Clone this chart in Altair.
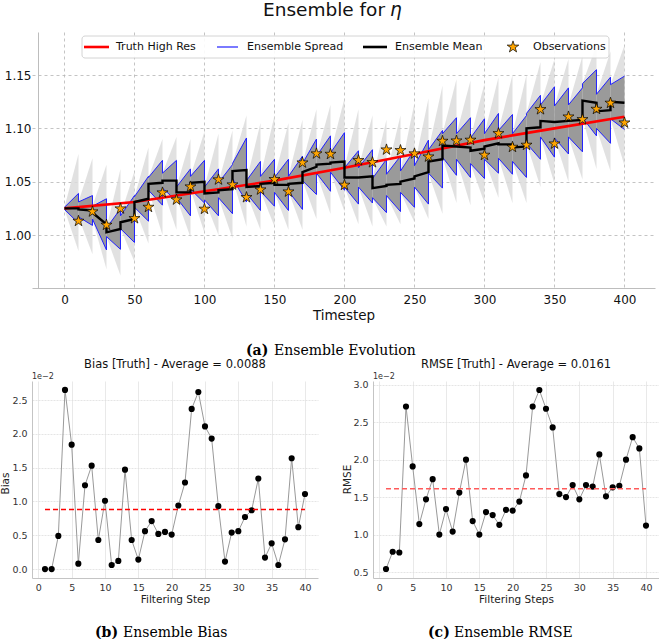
import math
import pandas as pd
import altair as alt

# ---------------- (a) Ensemble evolution : values ----------------
obs_t = [10, 20, 30, 40, 50, 60, 70, 80, 90, 100, 110, 120, 130, 140, 150, 160, 170, 180, 190, 200,
         210, 220, 230, 240, 250, 260, 270, 280, 290, 300, 310, 320, 330, 340, 350, 360, 370, 380, 390, 400]
obs_v = [1.0131, 1.0219, 1.0094, 1.0247, 1.0156, 1.0262, 1.0397, 1.0331, 1.0453, 1.0244,
         1.0519, 1.0472, 1.0353, 1.0425, 1.0522, 1.0406, 1.0678, 1.0763, 1.0759, 1.0469,
         1.0700, 1.0681, 1.0800, 1.0794, 1.0763, 1.0734, 1.0881, 1.0884, 1.0891, 1.0750,
         1.0953, 1.0825, 1.0844, 1.1178, 1.0856, 1.1109, 1.1084, 1.1181, 1.1238, 1.1053]

truth_t = [0, 50, 100, 150, 200, 250, 300, 350, 400]
truth_v = [1.025, 1.031, 1.041, 1.051, 1.063, 1.076, 1.089, 1.100, 1.111]

cycle_t0 = [0, 10, 20, 30, 40, 50, 60, 70, 80, 90, 100, 110, 120, 130, 140, 150, 160, 170, 180, 190,
            200, 210, 220, 230, 240, 250, 260, 270, 280, 290, 300, 310, 320, 330, 340, 350, 360, 370, 380, 390]
mean_start = [1.025, 1.024, 1.021, 1.0025, 1.012, 1.031, 1.048, 1.051, 1.040, 1.049,
              1.039, 1.042, 1.060, 1.045, 1.048, 1.047, 1.048, 1.059, 1.066, 1.068,
              1.054, 1.054, 1.044, 1.047, 1.050, 1.055, 1.069, 1.084, 1.083, 1.079,
              1.083, 1.085, 1.082, 1.100, 1.107, 1.106, 1.107, 1.126, 1.116, 1.125]
mean_end = [1.025, 1.023, 1.010, 1.0056, 1.015, 1.034, 1.049, 1.051, 1.040, 1.050,
            1.040, 1.043, 1.061, 1.046, 1.049, 1.047, 1.049, 1.064, 1.067, 1.069,
            1.054, 1.055, 1.046, 1.048, 1.053, 1.059, 1.071, 1.083, 1.082, 1.081,
            1.086, 1.085, 1.083, 1.101, 1.106, 1.107, 1.108, 1.124, 1.117, 1.124]
spread_start = [0.001, 0.007, 0.006, 0.004, 0.006, 0.005, 0.006, 0.007, 0.005, 0.006,
                0.006, 0.007, 0.007, 0.006, 0.007, 0.007, 0.007, 0.008, 0.008, 0.009,
                0.009, 0.009, 0.009, 0.010, 0.010, 0.010, 0.011, 0.011, 0.012, 0.012,
                0.012, 0.013, 0.013, 0.014, 0.015, 0.015, 0.015, 0.016, 0.016, 0.016]
spread_end = [0.014, 0.014, 0.024, 0.019, 0.022, 0.021, 0.021, 0.019, 0.022, 0.020,
              0.022, 0.023, 0.030, 0.023, 0.022, 0.024, 0.025, 0.026, 0.026, 0.027,
              0.025, 0.025, 0.025, 0.026, 0.027, 0.030, 0.027, 0.027, 0.028, 0.028,
              0.028, 0.028, 0.029, 0.030, 0.033, 0.031, 0.030, 0.031, 0.031, 0.025]
members_max_end = [1.076, 1.072, 1.066, 1.062, 1.060, 1.082, 1.090, 1.092, 1.090, 1.097,
                   1.095, 1.098, 1.112, 1.105, 1.112, 1.105, 1.108, 1.118, 1.122, 1.128,
                   1.118, 1.112, 1.108, 1.112, 1.124, 1.128, 1.140, 1.146, 1.145, 1.142,
                   1.148, 1.150, 1.150, 1.162, 1.165, 1.165, 1.168, 1.178, 1.172, 1.178]
members_min_end = [0.985, 0.982, 0.968, 0.962, 0.975, 0.992, 1.000, 1.005, 0.998, 1.002,
                   1.000, 0.997, 1.008, 1.005, 1.008, 1.005, 1.005, 1.015, 1.020, 1.022,
                   1.010, 1.008, 1.008, 1.010, 1.012, 1.015, 1.020, 1.030, 1.028, 1.030,
                   1.035, 1.030, 1.030, 1.045, 1.048, 1.050, 1.052, 1.062, 1.060, 1.065]
cycle_len = 10

legend_labels = ["Truth High Res", "Ensemble Spread", "Ensemble Mean", "Observations"]
legend_colors = ["#ff0000", "#2020ff", "#000000", "#ffa500"]
legend_widths = [2.6, 1.2, 2.6, 0.7]

# ---------------- (b), (c) Bias and RMSE ----------------
steps = list(range(1, 41))
bias_e2 = [0.00, 0.00, 0.49, 2.65, 1.84, 0.08, 1.24, 1.53, 0.43, 1.01,
           0.06, 0.12, 1.47, 0.43, 0.14, 0.56, 0.71, 0.52, 0.55, 0.51,
           0.94, 1.28, 2.37, 2.62, 2.11, 1.93, 0.93, 0.11, 0.54, 0.56,
           0.77, 0.87, 1.34, 0.17, 0.38, 0.06, 0.44, 1.64, 0.62, 1.11]
rmse_e2 = [0.54, 0.77, 0.76, 2.71, 1.91, 1.14, 1.47, 1.74, 1.00, 1.34,
           1.04, 1.56, 2.00, 1.18, 1.00, 1.30, 1.26, 1.13, 1.33, 1.32,
           1.44, 1.79, 2.71, 2.93, 2.68, 2.43, 1.54, 1.50, 1.66, 1.47,
           1.66, 1.64, 2.07, 1.51, 1.63, 1.65, 2.00, 2.30, 2.15, 1.12]
bias_avg = 0.0088
rmse_avg = 0.0161

# ---------------- tables ----------------
env_rows, band_rows, up_rows, lo_rows, mean_rows = [], [], [], [], []
i = 0
for k, t0 in enumerate(cycle_t0):
    t1 = t0 + cycle_len
    m0, m1 = mean_start[k], mean_end[k]
    s0, s1 = spread_start[k], spread_end[k]
    env_rows += [dict(cycle=k, t=t0, lo=m0 - s0, hi=m0 + s0),
                 dict(cycle=k, t=t1, lo=members_min_end[k], hi=members_max_end[k])]
    band_rows += [dict(cycle=k, t=t0, lo=m0 - s0, hi=m0 + s0),
                  dict(cycle=k, t=t1, lo=m1 - s1, hi=m1 + s1)]
    up_rows += [dict(i=i, t=t0, v=m0 + s0), dict(i=i + 1, t=t1, v=m1 + s1)]
    lo_rows += [dict(i=i, t=t0, v=m0 - s0), dict(i=i + 1, t=t1, v=m1 - s1)]
    mean_rows += [dict(i=i, t=t0, v=m0), dict(i=i + 1, t=t1, v=m1)]
    i += 2

env_df = pd.DataFrame(env_rows)
band_df = pd.DataFrame(band_rows)
up_df = pd.DataFrame(up_rows)
lo_df = pd.DataFrame(lo_rows)
mean_df = pd.DataFrame(mean_rows)
truth_df = pd.DataFrame({"t": truth_t, "v": truth_v})
obs_df = pd.DataFrame({"t": obs_t, "v": obs_v})


def star_path(R, ratio=0.382):
    pts = []
    for j in range(10):
        a = -math.pi / 2 + j * math.pi / 5
        r = R if j % 2 == 0 else R * ratio
        pts.append(f"{r * math.cos(a):.4f},{r * math.sin(a):.4f}")
    return "M" + " L".join(pts) + " Z"


STAR = star_path(1.0)

FONT = "DejaVu Sans"
SERIF = "DejaVu Serif"

# ---------------- top chart ----------------
xs = alt.Scale(domain=[-23.2, 421.8], nice=False, zero=False)
ys = alt.Scale(domain=[0.9503, 1.1904], nice=False, zero=False)
ax_x = alt.Axis(values=[0, 50, 100, 150, 200, 250, 300, 350, 400], title="Timestep",
                grid=True, gridDash=[3, 3], gridColor="#b5b5b5", gridWidth=0.8,
                ticks=False, tickSize=0, domainColor="#bdbdbd", domainWidth=1,
                labelFontSize=12, labelColor="#111111", labelPadding=6, labelFlush=False,
                titleFontSize=13.5, titleFontWeight="normal", titleColor="#111111", titlePadding=3)
ax_y = alt.Axis(values=[1.0, 1.05, 1.1, 1.15], format=".2f", title=None,
                grid=True, gridDash=[3, 3], gridColor="#b5b5b5", gridWidth=0.8,
                ticks=False, tickSize=0, domainColor="#bdbdbd", domainWidth=1,
                labelFontSize=12, labelColor="#111111", labelPadding=7, offset=-6)


def X(field="t"):
    return alt.X(f"{field}:Q", scale=xs, axis=ax_x)


def Y(field="v"):
    return alt.Y(f"{field}:Q", scale=ys, axis=ax_y)


env = alt.Chart(env_df).mark_area(color="#dcdcdc", opacity=0.85).encode(
    x=X(), y=Y("lo"), y2="hi:Q", detail="cycle:N")
band = alt.Chart(band_df).mark_area(color="#9a9a9a", opacity=1).encode(
    x=X(), y=Y("lo"), y2="hi:Q", detail="cycle:N")
up_line = alt.Chart(up_df).mark_line(color="#2020ff", strokeWidth=1).encode(
    x=X(), y=Y(), order="i:Q")
lo_line = alt.Chart(lo_df).mark_line(color="#2020ff", strokeWidth=1).encode(
    x=X(), y=Y(), order="i:Q")
truth = alt.Chart(truth_df).mark_line(color="#ff0000", strokeWidth=2.6).encode(x=X(), y=Y())
mean_line = alt.Chart(mean_df).mark_line(color="#000000", strokeWidth=2.4).encode(
    x=X(), y=Y(), order="i:Q")
stars = alt.Chart(obs_df).mark_point(shape=STAR, size=135, filled=True, fill="#ffa500",
                                     stroke="#000000", strokeWidth=0.7, opacity=1).encode(
    x=X(), y=Y())

# legend key (drawn in pixel space of the top panel)
one = pd.DataFrame({"k": [0]})
LY = 15
leg_box = alt.Chart(one).mark_rect(fill="white", stroke="#d0d0d0", strokeWidth=1,
                                   cornerRadius=3, opacity=0.9).encode(
    x=alt.value(50), x2=alt.value(577), y=alt.value(4), y2=alt.value(26))
leg_marks = [leg_box]
leg_sym_x = [(52, 77), (185, 206), (331, 355), (481, 481)]
leg_txt_x = [84, 215, 363, 501]
for lab, col, w, (s0, s1), tx in zip(legend_labels, legend_colors, legend_widths, leg_sym_x, leg_txt_x):
    if lab == "Observations":
        leg_marks.append(alt.Chart(one).mark_point(shape=STAR, size=150, filled=True, fill=col,
                                                   stroke="#000000", strokeWidth=w, opacity=1).encode(
            x=alt.value(s0), y=alt.value(LY)))
    else:
        leg_marks.append(alt.Chart(one).mark_rule(color=col, strokeWidth=w).encode(
            x=alt.value(s0), x2=alt.value(s1), y=alt.value(LY)))
    leg_marks.append(alt.Chart(pd.DataFrame({"s": [lab]})).mark_text(
        font=FONT, fontSize=11, align="left", baseline="middle", color="#111111").encode(
        text="s:N", x=alt.value(tx), y=alt.value(LY)))

# title "Ensemble for η" (η in math italic)
title_main = alt.Chart(pd.DataFrame({"s": ["Ensemble for"]})).mark_text(
    font=FONT, fontSize=18.5, align="left", baseline="alphabetic",
    color="#111111").encode(text="s:N", x=alt.value(231), y=alt.value(-16))
title_eta = alt.Chart(pd.DataFrame({"s": ["η"]})).mark_text(
    font=FONT, fontSize=18.5, fontStyle="italic", align="left", baseline="alphabetic",
    color="#111111").encode(text="s:N", x=alt.value(358), y=alt.value(-16))


def caption(letter, text, x_letter, x_text, y):
    a = alt.Chart(pd.DataFrame({"s": [letter]})).mark_text(
        font=SERIF, fontWeight="bold", fontSize=14, align="left", baseline="middle", color="#000000"
    ).encode(text="s:N", x=alt.value(x_letter), y=alt.value(y))
    b = alt.Chart(pd.DataFrame({"s": [text]})).mark_text(
        font=SERIF, fontSize=14, align="left", baseline="middle", color="#000000"
    ).encode(text="s:N", x=alt.value(x_text), y=alt.value(y))
    return [a, b]


top = alt.layer(env, band, up_line, lo_line, truth, mean_line, stars, *leg_marks,
                title_main, title_eta,
                *caption("(a)", "Ensemble Evolution", 214, 242, 319)).properties(
    width=623, height=256)

# ---------------- bottom charts ----------------
bx = alt.Scale(domain=[-0.95, 41.95], nice=False, zero=False)


def bottom_panel(vals, avg, ydom, yvals, ytitle, xtitle, title, title_x, title_y, cap, avg_color):
    by = alt.Scale(domain=ydom, nice=False, zero=False)
    axx = alt.Axis(values=[0, 5, 10, 15, 20, 25, 30, 35, 40], title=xtitle, grid=True,
                   gridColor="#e3e3e3", gridWidth=0.8, ticks=False, tickSize=0,
                   domainColor="#c4c4c4", labelFontSize=9.5, labelColor="#333333", labelPadding=4,
                   labelFlush=False, titleFontSize=10.5, titleFontWeight="normal",
                   titleColor="#222222", titlePadding=3)
    axy = alt.Axis(values=yvals, format=".1f", title=ytitle, grid=True, gridColor="#dedede",
                   gridWidth=0.8, gridDash=[2, 1], ticks=False, tickSize=0, domainColor="#c4c4c4",
                   labelFontSize=9.5, labelColor="#333333", labelPadding=5,
                   titleFontSize=10.5, titleFontWeight="normal", titleColor="#222222",
                   titleX=title_x, titleY=title_y, titleAngle=270, titleBaseline="alphabetic")
    df = pd.DataFrame({"step": steps, "val": vals})
    line = alt.Chart(df).mark_line(color="#999999", strokeWidth=1).encode(
        x=alt.X("step:Q", scale=bx, axis=axx), y=alt.Y("val:Q", scale=by, axis=axy))
    pts = alt.Chart(df).mark_circle(color="#000000", size=38, opacity=1).encode(
        x=alt.X("step:Q", scale=bx, axis=axx), y=alt.Y("val:Q", scale=by, axis=axy))
    adf = pd.DataFrame({"x0": [steps[0]], "x1": [steps[-1]], "y": [avg * 100]})
    avg_rule = alt.Chart(adf).mark_rule(color=avg_color, strokeDash=[5, 3], strokeWidth=1.5).encode(
        x=alt.X("x0:Q", scale=bx, axis=axx), x2="x1:Q", y=alt.Y("y:Q", scale=by, axis=axy))
    exp = alt.Chart(pd.DataFrame({"s": ["1e\u22122"]})).mark_text(
        font=FONT, fontSize=8, align="left", baseline="alphabetic", color="#333333"
    ).encode(text="s:N", x=alt.value(0), y=alt.value(-2))
    return alt.layer(line, pts, avg_rule, exp, *cap).properties(
        width=286, height=197,
        title=alt.Title(title, fontSize=11.5, fontWeight="normal", font=FONT, color="#111111", offset=3))


bias_chart = bottom_panel(bias_e2, bias_avg, [-0.1325, 2.7825], [0.0, 0.5, 1.0, 1.5, 2.0, 2.5],
                          "Bias", "Filtering Step", "Bias [Truth] - Average = 0.0088", -24, 102,
                          caption("(b)", "Ensemble Bias", 63, 91, 252), "#ff0000")
rmse_chart = bottom_panel(rmse_e2, rmse_avg, [0.42, 3.05], [0.5, 1.0, 1.5, 2.0, 2.5, 3.0],
                          "RMSE", "Filtering Steps", "RMSE [Truth] - Average = 0.0161", -23, 98,
                          caption("(c)", "Ensemble RMSE", 55, 81, 252), "#ff5a5a")

row = alt.hconcat(bias_chart, rmse_chart, spacing=55, bounds="flush")
chart = alt.vconcat(top, row, spacing=93, bounds="flush").properties(
    padding={"left": 0, "top": 1, "right": 0, "bottom": 0}
).configure(font=FONT).configure_view(stroke=None).configure_axis(
    labelFont=FONT, titleFont=FONT)

chart.save("out.html", embed_options={"renderer": "svg", "actions": False})
